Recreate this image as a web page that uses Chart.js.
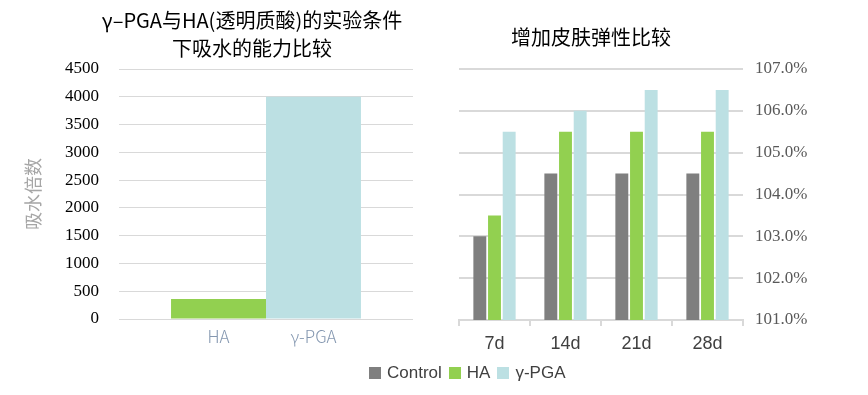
<!DOCTYPE html>
<html>
<head>
<meta charset="utf-8">
<script src="https://cdn.jsdelivr.net/npm/chart.js@4.4.1/dist/chart.umd.min.js"></script>
<style>
  html, body { margin: 0; padding: 0; background: #fff; }
  body { width: 868px; height: 395px; position: relative; overflow: hidden; }
  .box { position: absolute; top: 0; height: 395px; }
  #leftBox { left: 0; width: 504px; }
  #rightBox { left: 361px; width: 460px; }
  #legend {
    position: absolute; left: 369px; top: 362px; height: 22px;
    display: flex; align-items: center;
    font-family: "Liberation Sans", Arial, sans-serif; font-size: 17px; color: #404040;
  }
  #legend .item { display: flex; align-items: center; margin-right: 7px; }
  #legend .sw { width: 12px; height: 12px; margin-right: 6px; }
</style>
</head>
<body>
<div class="box" id="leftBox"><canvas id="waterChart"></canvas></div>
<div class="box" id="rightBox"><canvas id="skinChart"></canvas></div>
<div id="legend"></div>

<script>
// données - graphique de gauche (absorption d'eau)
const waterSeries = ['HA', 'γ-PGA'];
const waterValues = [360, 4000];
const waterColors = ['#92d050', '#bce0e3'];

// données - graphique de droite (élasticité de la peau)
const skinDays = ['7d', '14d', '21d', '28d'];
const skinSeries = ['Control', 'HA', 'γ-PGA'];
const controlValues = [103.0, 104.5, 104.5, 104.5];
const haValues = [103.5, 105.5, 105.5, 105.5];
const pgaValues = [105.5, 106.0, 106.5, 106.5];
const skinColors = ['#7f7f7f', '#92d050', '#bce0e3'];

const cjk = '"Noto Sans CJK SC", "Noto Sans", sans-serif';
const serif = '"Liberation Serif", "Times New Roman", serif';
const sans = '"Liberation Sans", Arial, sans-serif';

// écrit le nom de chaque série sous sa barre
const barNamePlugin = {
    id: 'barNames',
    afterDatasetsDraw(chart) {
        const ctx = chart.ctx;
        ctx.save();
        ctx.font = '300 17px ' + cjk;
        ctx.fillStyle = '#8497b0';
        ctx.textAlign = 'center';
        ctx.textBaseline = 'middle';
        chart.data.datasets.forEach((ds, i) => {
            const bar = chart.getDatasetMeta(i).data[0];
            ctx.fillText(ds.label, bar.x, chart.chartArea.bottom + 18);
        });
        ctx.restore();
    }
};

new Chart(document.getElementById('waterChart'), {
    type: 'bar',
    data: {
        labels: [''],
        datasets: waterSeries.map((name, i) => ({
            label: name,
            data: [waterValues[i]],
            backgroundColor: waterColors[i],
            categoryPercentage: 0.646,
            barPercentage: 1
        }))
    },
    options: {
        responsive: true,
        maintainAspectRatio: false,
        animation: false,
        layout: { padding: { left: 0, right: 0, top: 0, bottom: 76 } },
        plugins: {
            legend: { display: false },
            tooltip: { enabled: false },
            title: {
                display: true,
                text: ['γ–PGA与HA(透明质酸)的实验条件', '下吸水的能力比较'],
                color: '#000',
                font: { family: cjk, size: 20, weight: 'normal', lineHeight: 1.4 },
                padding: { top: 6, bottom: 7 }
            }
        },
        scales: {
            x: { display: false },
            y: {
                min: 0,
                max: 4500,
                ticks: {
                    stepSize: 500,
                    color: '#000',
                    padding: 20,
                    font: { family: serif, size: 17 },
                    callback: v => String(v)
                },
                grid: { color: '#d9d9d9', lineWidth: 1, drawTicks: false },
                border: { display: false },
                title: {
                    display: true,
                    text: '吸水倍数',
                    color: '#a6a6a6',
                    font: { family: cjk, size: 18 },
                    padding: { top: 22, bottom: 0 }
                },
                afterFit(scale) { scale.width = 119; }
            },
            yDummy: {
                position: 'right',
                ticks: { display: false },
                grid: { display: false },
                border: { display: false },
                afterFit(scale) { scale.width = 91; }
            }
        }
    },
    plugins: [barNamePlugin]
});

const skinChart = new Chart(document.getElementById('skinChart'), {
    type: 'bar',
    data: {
        labels: skinDays,
        datasets: [
            { label: skinSeries[0], data: controlValues, backgroundColor: skinColors[0] },
            { label: skinSeries[1], data: haValues, backgroundColor: skinColors[1] },
            { label: skinSeries[2], data: pgaValues, backgroundColor: skinColors[2] }
        ].map(ds => Object.assign(ds, { categoryPercentage: 0.62, barPercentage: 0.88, yAxisID: 'y' }))
    },
    options: {
        responsive: true,
        maintainAspectRatio: false,
        animation: false,
        layout: { padding: { left: 0, right: 0, top: 0, bottom: 35 } },
        plugins: {
            legend: { display: false },
            tooltip: { enabled: false },
            title: {
                display: true,
                text: '增加皮肤弹性比较',
                color: '#000',
                font: { family: cjk, size: 20, weight: 'normal', lineHeight: 1.2 },
                padding: { top: 25, bottom: 20 }
            }
        },
        scales: {
            x: {
                ticks: { color: '#404040', padding: 7, font: { family: sans, size: 18 } },
                grid: { drawOnChartArea: false, drawTicks: true, tickLength: 6, color: '#d9d9d9', lineWidth: 2 },
                border: { display: true, color: '#d9d9d9', width: 2 },
                afterFit(scale) { scale.height = 40; }
            },
            y: {
                position: 'right',
                min: 101,
                max: 107,
                ticks: {
                    stepSize: 1,
                    color: '#595959',
                    padding: 12,
                    font: { family: serif, size: 17 },
                    callback: v => v.toFixed(1) + '%'
                },
                grid: { color: '#d9d9d9', lineWidth: 2, drawTicks: false },
                border: { display: false },
                afterFit(scale) { scale.width = 78; }
            },
            yDummy: {
                position: 'left',
                ticks: { display: false },
                grid: { display: false },
                border: { display: false },
                afterFit(scale) { scale.width = 98; }
            }
        }
    }
});

// légende HTML construite à partir des séries du graphique de droite
const legendElem = document.getElementById('legend');
skinChart.data.datasets.forEach(ds => {
    const item = document.createElement('div');
    item.className = 'item';
    item.innerHTML = `<span class="sw" style="background:${ds.backgroundColor}"></span><span>${ds.label}</span>`;
    legendElem.appendChild(item);
});
</script>
</body>
</html>
